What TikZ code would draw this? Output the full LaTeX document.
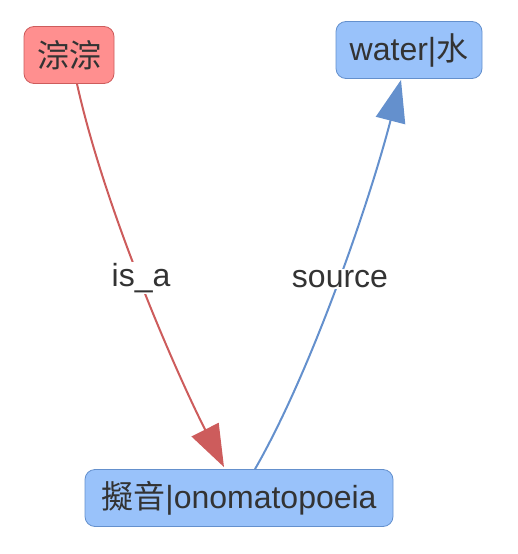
\documentclass[tikz,border=0pt]{standalone}
\usepackage{fontspec}
\setmainfont{Liberation Sans}
\newfontfamily\cjk{Noto Sans CJK SC}
\usetikzlibrary{arrows.meta}
\definecolor{redfill}{HTML}{FF8F8F}
\definecolor{redline}{HTML}{CD5C5C}
\definecolor{bluefill}{HTML}{99C2FA}
\definecolor{blueline}{HTML}{6490CD}
\definecolor{txt}{HTML}{333333}
\tikzset{
  box/.style={draw, rounded corners=10pt, line width=0.8pt, text=txt, inner sep=0pt,
    font=\fontsize{32}{38}\selectfont, minimum height=57pt},
  redbox/.style={box, fill=redfill, draw=redline},
  bluebox/.style={box, fill=bluefill, draw=blueline},
  lbl/.style={fill=white, text=txt, inner sep=1pt, font=\fontsize{32}{38}\selectfont},
  redarrow/.style={draw=redline, line width=2pt, -{Triangle[length=42pt,width=30pt,fill=redline]}},
  bluearrow/.style={draw=blueline, line width=2pt, -{Triangle[length=42pt,width=30pt,fill=blueline]}}
}
\begin{document}
\begin{tikzpicture}[x=1pt,y=-1pt]
\useasboundingbox (0,0) rectangle (517,554);
\node[redbox, minimum width=90pt] (cc) at (69,55) {\cjk 淙淙};
\node[bluebox, minimum width=146pt] (water) at (409,50) {water|{\cjk 水}};
\node[bluebox, minimum width=308pt] (ono) at (239,498) {{\cjk 擬音}|onomatopoeia};
\coordinate (r0) at ([xshift=8pt]cc.south);
\coordinate (r1) at ([xshift=-15pt,yshift=2pt]ono.north);
\coordinate (b0) at ([xshift=16pt]ono.north);
\coordinate (b1) at ([xshift=-8pt,yshift=-1pt]water.south);
\draw[redarrow] (r0) .. controls (105,210) and (175,370) .. (r1);
\draw[bluearrow] (b0) .. controls (312,370) and (370,200) .. (b1);
\node[lbl] (isa) at (141,278) {is\_a};
\node[lbl] (src) at (340,279) {source};
\end{tikzpicture}
\end{document}
